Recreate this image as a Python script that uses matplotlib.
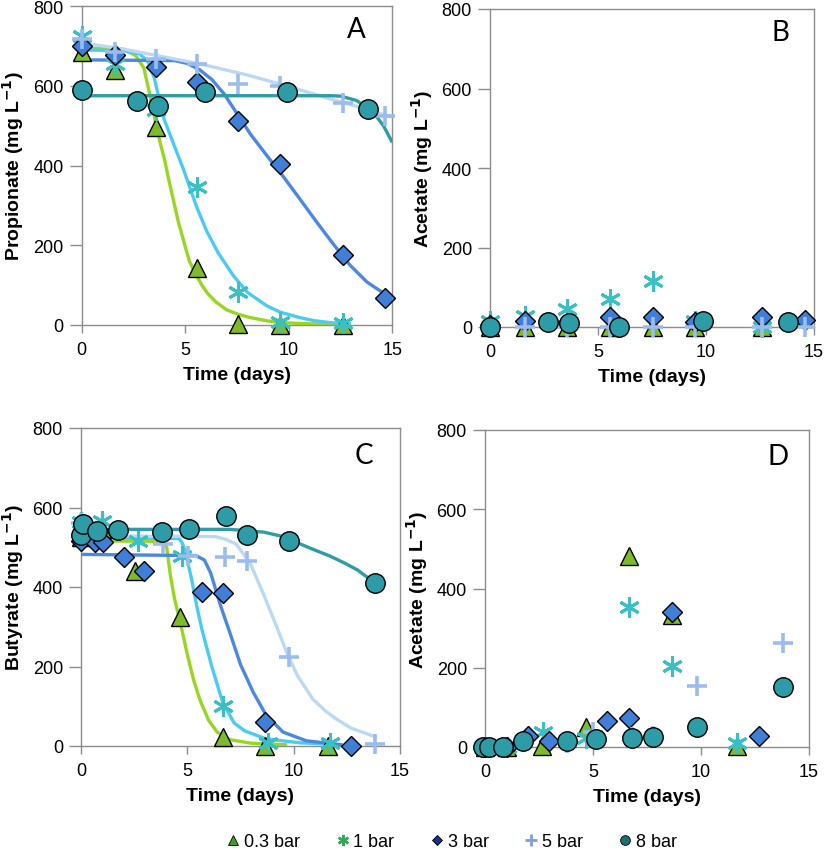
import matplotlib
matplotlib.use("Agg")
import matplotlib.pyplot as plt
from matplotlib.lines import Line2D

plt.rcParams['font.family'] = ['Liberation Sans', 'DejaVu Sans']
plt.rcParams['mathtext.default'] = 'bf'

# ---------------- data ----------------
series = ["0.3 bar", "1 bar", "3 bar", "5 bar", "8 bar"]

# Panel A: propionate (measured)
A_tri_t = [0, 1.61, 3.59, 5.56, 7.57, 9.58, 12.64]
A_tri_v = [684, 640, 496, 142, 2, 0, 0]
A_ast_t = [0, 1.61, 3.59, 5.56, 7.57, 9.58, 12.64]
A_ast_v = [724, 655, 538, 345, 82, 7, 6]
A_dia_t = [0, 1.61, 3.59, 5.56, 7.57, 9.58, 12.64, 14.65]
A_dia_v = [700, 676, 648, 609, 512, 404, 176, 67]
A_plu_t = [0, 1.61, 3.59, 5.56, 7.57, 9.58, 12.64, 14.65]
A_plu_v = [716, 684, 668, 655, 604, 600, 557, 525]
A_cir_t = [0, 2.66, 3.67, 5.96, 9.9, 13.85]
A_cir_v = [590, 563, 550, 584, 585, 542]

# Panel A: fitted curves
A_fit03_t = [0, 2, 2.6, 3.0, 3.3, 3.6, 3.8, 4.0, 4.2, 4.4, 4.65, 4.9, 5.2, 5.5, 5.8, 6.1, 6.5, 7.0, 7.5, 8.1, 9, 10, 11, 13]
A_fit03_v = [695, 692, 676, 645, 575, 500, 455, 415, 365, 320, 262, 215, 160, 128, 100, 78, 57, 38, 28, 19, 10, 5, 3, 1]
A_fit1_t = [0, 2, 2.8, 3.2, 3.5, 3.75, 3.95, 4.43, 4.91, 5.56, 6.04, 6.6, 7.32, 8.0, 8.94, 9.6, 10.5, 11.2, 12, 13]
A_fit1_v = [690, 688, 680, 660, 620, 565, 520, 455, 391, 295, 235, 180, 124, 82, 48, 32, 19, 11, 6, 3]
A_fit3_t = [0, 4.5, 5.1, 5.7, 6.3, 6.9, 7.5, 8.13, 8.94, 9.74, 10.55, 11.35, 12.15, 12.96, 13.77, 14.4, 15]
A_fit3_v = [665, 663, 656, 640, 615, 578, 530, 480, 425, 372, 315, 258, 203, 150, 108, 86, 70]
A_fit5_t = [0, 2, 4, 5.7, 8, 10, 12, 13.5, 15]
A_fit5_v = [708, 692, 672, 655, 627, 598, 567, 545, 521]
A_fit8_t = [0, 12, 12.5, 13.28, 14.09, 14.57, 15]
A_fit8_v = [575, 575, 574, 563, 533, 500, 458]

# Panel B: acetate during propionate degradation
B_tri_t = [0, 1.62, 3.55, 5.56, 7.56, 9.49, 12.58]
B_tri_v = [0, 0, 0, 0, 0, 0, 0]
B_ast_t = [0, 1.62, 3.55, 5.56, 7.56, 9.49, 12.58]
B_ast_v = [16, 28, 45, 70, 116, 16, 0]
B_dia_t = [0, 1.62, 3.55, 5.56, 7.56, 9.49, 12.58, 14.58]
B_dia_v = [5, 16, 10, 24, 24, 12, 24, 17]
B_plu_t = [0, 1.62, 3.55, 5.56, 7.56, 9.49, 12.58, 14.58]
B_plu_v = [0, 0, 0, 0, 0, 0, 0, 0]
B_cir_t = [0, 2.7, 3.67, 5.99, 9.88, 13.8]
B_cir_v = [0, 12, 10, 0, 14, 12]

# Panel C: butyrate (measured)
C_tri_t = [0, 1.0, 2.54, 4.65, 6.66, 8.65, 11.63]
C_tri_v = [525, 545, 441, 324, 22, 0, 0]
C_ast_t = [0, 0.97, 2.69, 4.73, 6.66, 8.77, 11.7]
C_ast_v = [563, 567, 516, 479, 101, 8, 8]
C_dia_t = [0, 0.66, 1.05, 2.02, 2.96, 5.67, 6.66, 8.65, 12.69]
C_dia_v = [516, 512, 512, 475, 439, 388, 385, 60, 0]
C_plu_t = [0, 3.87, 5.05, 6.77, 7.79, 9.79, 13.82]
C_plu_v = [560, 508, 479, 475, 466, 223, 5]
C_cir_t = [0, 0.11, 0.74, 1.75, 3.79, 5.09, 6.8, 7.79, 9.78, 13.82]
C_cir_v = [530, 558, 542, 544, 538, 546, 578, 531, 516, 409]

# Panel C: fitted curves
C_fit03_t = [0, 3.8, 4.03, 4.2, 4.4, 4.65, 5.0, 5.3, 5.6, 6.0, 6.4, 7.0, 8.0, 9.7]
C_fit03_v = [516, 515, 500, 430, 370, 315, 230, 165, 115, 65, 35, 16, 7, 3]
C_fit1_t = [0, 4.6, 4.75, 4.9, 5.2, 5.45, 5.7, 6.15, 6.66, 7.2, 7.7, 8.7, 10.3, 12]
C_fit1_v = [524, 522, 512, 490, 420, 350, 290, 200, 110, 58, 38, 18, 8, 4]
C_fit3_t = [0, 5.4, 5.8, 6.1, 6.55, 7.0, 7.5, 8.1, 8.7, 9.5, 10.6, 12.3]
C_fit3_v = [482, 479, 468, 435, 355, 285, 205, 135, 78, 35, 13, 3]
C_fit5_t = [0, 6.3, 6.8, 7.3, 7.95, 8.6, 9.2, 9.75, 10.2, 10.9, 11.5, 12.0, 12.7, 13.9]
C_fit5_v = [529, 527, 520, 508, 460, 380, 300, 225, 175, 118, 88, 68, 45, 22]
C_fit8_t = [0, 7, 8.6, 9.4, 10.14, 10.9, 11.7, 12.4, 13.0, 13.82]
C_fit8_v = [545, 545, 538, 528, 512, 495, 478, 460, 443, 410]

# Panel D: acetate during butyrate degradation
D_tri_t = [0, 1.0, 2.62, 4.66, 6.68, 8.67, 11.68]
D_tri_v = [0, 0, 3, 50, 483, 333, 3]
D_ast_t = [0, 1.0, 2.67, 4.66, 6.67, 8.67, 11.68]
D_ast_v = [0, 0, 37, 22, 353, 205, 9]
D_dia_t = [0, 1.0, 2.0, 2.98, 5.66, 6.68, 8.67, 12.7]
D_dia_v = [0, 0, 29, 14, 65, 72, 340, 29]
D_plu_t = [0, 3.8, 5.0, 6.8, 7.8, 9.8, 13.78]
D_plu_v = [0, 10, 37, 25, 28, 155, 262]
D_cir_t = [-0.1, 0.2, 0.82, 1.77, 3.78, 5.12, 6.79, 7.79, 9.8, 13.81]
D_cir_v = [0, 0, 0, 16, 14, 20, 22, 26, 50, 151]

# ---------------- style ----------------
mk_col = {"tri": "#7DBB2A", "ast": "#3BBFC2", "dia": "#3F7FD8", "plu": "#9DBCEE", "cir": "#2E9CA6"}
ln_col = ["#99D624", "#4CCBF2", "#4A88E2", "#BCD9F2", "#2F9CA8"]
spine_col = "#8C8C8C"

W, H = 825, 853
fig = plt.figure(figsize=(W / 100, H / 100), dpi=100)

def ax_at(l, r, t, b):
    return fig.add_axes([l / W, 1 - b / H, (r - l) / W, (b - t) / H])

axA = ax_at(81.7, 392.3, 7, 326)
axB = ax_at(490, 814, 10, 328)
axC = ax_at(81, 400, 429, 747)
axD = ax_at(485, 809, 431, 748)

def style(ax, ylabel, letter, lx, ly):
    ax.set_xlim(0, 15)
    ax.set_ylim(0, 800)
    ax.set_xticks([0, 5, 10, 15])
    ax.set_yticks([0, 200, 400, 600, 800])
    for s in ax.spines.values():
        s.set_color(spine_col)
        s.set_linewidth(1.0)
    ax.tick_params(axis='y', direction='out', length=8.5, width=1, color=spine_col,
                   labelsize=13, pad=4.5)
    ax.tick_params(axis='x', direction='out', length=5.5, width=1, color=spine_col,
                   labelsize=13, pad=6)
    ax.set_xlabel("Time (days)", fontsize=14, fontweight='bold', labelpad=6)
    ax.set_ylabel(ylabel, fontsize=14, fontweight='bold', labelpad=5)
    ax.text(lx, ly, letter, transform=ax.transAxes, fontsize=20,
            family=['Lato', 'DejaVu Sans'], ha='right', va='top')

def markers(ax, d):
    kw = dict(linestyle='none', clip_on=False, zorder=5)
    ax.plot(d[0][0], d[0][1], marker='^', ms=13, mfc=mk_col["tri"], mec='black', mew=1.0, **kw)
    ax.plot(d[1][0], d[1][1], marker=(6, 2, 0), ms=15, mec=mk_col["ast"], mew=2.2, **kw)
    ax.plot(d[2][0], d[2][1], marker='D', ms=10, mfc=mk_col["dia"], mec='black', mew=1.0, **kw)
    ax.plot(d[3][0], d[3][1], marker='+', ms=15, mec=mk_col["plu"], mew=2.6, **kw)
    ax.plot(d[4][0], d[4][1], marker='o', ms=14, mfc=mk_col["cir"], mec='black', mew=1.0, **kw)

def curves(ax, fits):
    for (t, v), c in zip(fits, ln_col):
        ax.plot(t, v, color=c, lw=2.4, solid_capstyle='butt', solid_joinstyle='round', zorder=3)

ylab_p = "Propionate (mg L$^{-1}$)"
ylab_a = "Acetate (mg L$^{-1}$)"
ylab_b = "Butyrate (mg L$^{-1}$)"

style(axA, ylab_p, "A", 0.915, 0.968)
curves(axA, [(A_fit03_t, A_fit03_v), (A_fit1_t, A_fit1_v), (A_fit3_t, A_fit3_v),
             (A_fit5_t, A_fit5_v), (A_fit8_t, A_fit8_v)])
markers(axA, [(A_tri_t, A_tri_v), (A_ast_t, A_ast_v), (A_dia_t, A_dia_v),
              (A_plu_t, A_plu_v), (A_cir_t, A_cir_v)])

style(axB, ylab_a, "B", 0.923, 0.968)
markers(axB, [(B_tri_t, B_tri_v), (B_ast_t, B_ast_v), (B_dia_t, B_dia_v),
              (B_plu_t, B_plu_v), (B_cir_t, B_cir_v)])

style(axC, ylab_b, "C", 0.915, 0.955)
curves(axC, [(C_fit03_t, C_fit03_v), (C_fit1_t, C_fit1_v), (C_fit3_t, C_fit3_v),
             (C_fit5_t, C_fit5_v), (C_fit8_t, C_fit8_v)])
markers(axC, [(C_tri_t, C_tri_v), (C_ast_t, C_ast_v), (C_dia_t, C_dia_v),
              (C_plu_t, C_plu_v), (C_cir_t, C_cir_v)])

style(axD, ylab_a, "D", 0.938, 0.958)
markers(axD, [(D_tri_t, D_tri_v), (D_ast_t, D_ast_v), (D_dia_t, D_dia_v),
              (D_plu_t, D_plu_v), (D_cir_t, D_cir_v)])

# legend
handles = [
    Line2D([], [], linestyle='none', marker='^', ms=7, mfc='#3E9E1C', mec='black', mew=0.6),
    Line2D([], [], linestyle='none', marker=(6, 2, 0), ms=8, mec='#35A85A', mew=1.8),
    Line2D([], [], linestyle='none', marker='D', ms=5.5, mfc='#1A2E92', mec='black', mew=0.6),
    Line2D([], [], linestyle='none', marker='+', ms=8, mec='#7E9FE2', mew=2.0),
    Line2D([], [], linestyle='none', marker='o', ms=7, mfc='#1F6E6E', mec='black', mew=0.6),
]
fig.legend(handles, series, loc='center', bbox_to_anchor=(0.548, 1 - 843 / H), ncol=5,
           frameon=False, fontsize=13, handlelength=0.7, handletextpad=0.25,
           columnspacing=2.0, borderaxespad=0)

fig.savefig("out.png", dpi=100)
